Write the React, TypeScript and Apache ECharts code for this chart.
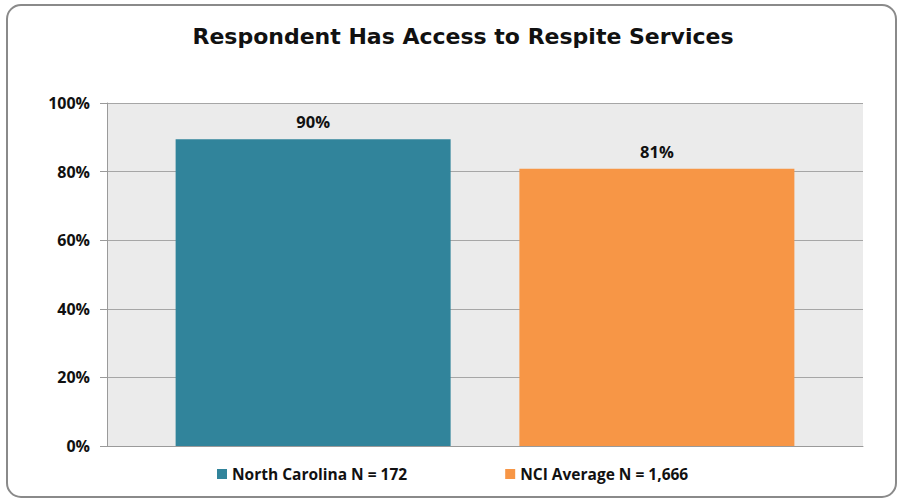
import React, { useEffect, useRef } from "react";
import * as echarts from "echarts";

const categories = [""];
const seriesNames = ["North Carolina N = 172", "NCI Average N = 1,666"];
const seriesValues = [89.4, 80.8];
const seriesLabels = ["90%", "81%"];
const seriesColors = ["#31849b", "#f79646"];
const yTicks = [0, 20, 40, 60, 80, 100];

const FONT = "'Open Sans', 'Liberation Sans', sans-serif";
const WIDE = "'DejaVu Sans', 'Open Sans', sans-serif";

export default function App() {
  const ref = useRef<HTMLDivElement>(null);
  useEffect(() => {
    if (!ref.current) return;
    const chart = echarts.init(ref.current, null, { renderer: "svg" });
    chart.setOption({
      animation: false,
      backgroundColor: "#ffffff",
      title: {
        text: "Respondent Has Access to Respite Services",
        left: 458,
        top: 20,
        textAlign: "center",
        textStyle: { fontFamily: WIDE, fontWeight: "bold", fontSize: 22, color: "#111" },
      },
      graphic: [
        {
          type: "rect",
          shape: { x: 7, y: 5, width: 889, height: 492, r: 14 },
          style: { fill: "none", stroke: "#8a8a8a", lineWidth: 2 },
          silent: true,
        },
      ],
      legend: {
        bottom: 14,
        left: 212,
        itemWidth: 10,
        itemHeight: 10,
        itemGap: 98,
        icon: "rect",
        textStyle: { fontFamily: FONT, fontWeight: "bold", fontSize: 15.5, color: "#111" },
        data: seriesNames,
      },
      grid: {
        left: 107,
        right: 40,
        top: 103,
        bottom: 55,
        show: true,
        backgroundColor: "#ebebeb",
        borderWidth: 0,
      },
      xAxis: {
        type: "category",
        data: categories,
        axisLine: { show: true, lineStyle: { color: "#9a9a9a", width: 1 } },
        axisTick: { show: false },
        axisLabel: { show: false },
      },
      yAxis: {
        type: "value",
        min: 0,
        max: 100,
        interval: 20,
        axisLine: { show: true, lineStyle: { color: "#9a9a9a", width: 1 } },
        axisTick: { show: true, length: 7, lineStyle: { color: "#9a9a9a" } },
        splitLine: { show: true, lineStyle: { color: "#a6a6a6", width: 1 } },
        axisLabel: {
          margin: 17,
          fontFamily: FONT,
          fontWeight: "bold",
          fontSize: 16,
          color: "#111",
          formatter: (v: number) => (yTicks.includes(v) ? v + "%" : ""),
        },
      },
      series: seriesNames.map((name, i) => ({
        name,
        type: "bar",
        data: [seriesValues[i]],
        barWidth: 275,
        barGap: "25%",
        itemStyle: { color: seriesColors[i] },
        label: {
          show: true,
          position: "top",
          distance: 9,
          formatter: () => seriesLabels[i],
          fontFamily: FONT,
          fontWeight: "bold",
          fontSize: 16.5,
          color: "#111",
        },
      })),
    });
    return () => chart.dispose();
  }, []);
  return (
    <div
      ref={ref}
      style={{ position: "fixed", left: 0, top: 0, width: 903, height: 501 }}
    />
  );
}
